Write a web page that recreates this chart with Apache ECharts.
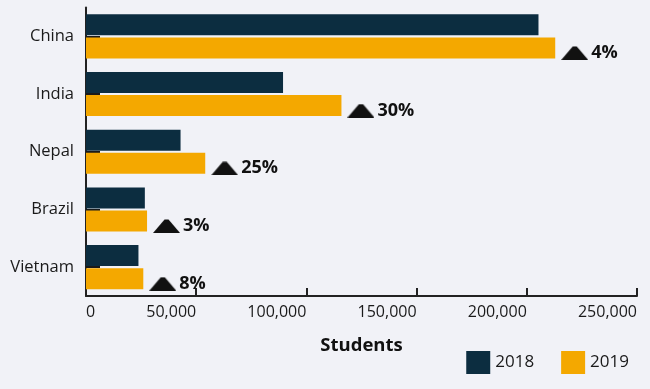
<!DOCTYPE html>
<html>
<head>
<meta charset="utf-8">
<script src="https://cdn.jsdelivr.net/npm/echarts@6/dist/echarts.min.js"></script>
<style>
html,body{margin:0;padding:0;background:#f1f2f7;}
#c{width:650px;height:389px;}
</style>
</head>
<body>
<div id="c"></div>
<script>
const categories = ['China', 'India', 'Nepal', 'Brazil', 'Vietnam'];
const values2018 = [205300, 89400, 42900, 26700, 23800];
const values2019 = [212900, 115900, 54100, 27700, 26000];
const changeLabels = ['4%', '30%', '25%', '3%', '8%'];
const seriesNames = ['2018', '2019'];

const tri = document.createElement('canvas');
tri.width = 27; tri.height = 14;
const g = tri.getContext('2d');
g.fillStyle = '#111';
g.beginPath();
g.moveTo(0, 14); g.lineTo(27, 14); g.lineTo(15.5, 0.5); g.lineTo(11.5, 0.5); g.closePath();
g.fill();

const FONT = '"Open Sans", sans-serif';
const chart = echarts.init(document.getElementById('c'));
chart.setOption({
  backgroundColor: '#f1f2f7',
  animation: false,
  textStyle: { fontFamily: FONT },
  grid: { left: 86, right: 13, top: 7.5, bottom: 93, containLabel: false },
  legend: {
    data: seriesNames,
    right: 16, top: 346,
    icon: 'rect',
    itemWidth: 24, itemHeight: 23, itemGap: 27,
    textStyle: { fontFamily: FONT, fontSize: 17, color: '#1a1a1a', padding: [6, 0, 0, 0] }
  },
  xAxis: {
    type: 'value', min: 0, max: 250000, interval: 50000,
    name: 'Students', nameLocation: 'middle', nameGap: 40,
    nameTextStyle: { fontFamily: FONT, fontSize: 18.5, fontWeight: 'bold', color: '#111' },
    axisLine: { show: true, lineStyle: { color: '#222', width: 2 } },
    axisTick: { show: true, inside: true, length: 8, lineStyle: { color: '#222', width: 2 } },
    axisLabel: {
      fontFamily: FONT, fontSize: 16, color: '#1a1a1a', margin: 8,
      align: 'right', alignMinLabel: 'left',
      formatter: v => v.toLocaleString('en-US')
    },
    splitLine: { show: false }
  },
  yAxis: {
    type: 'category', data: categories, inverse: true,
    axisLine: { show: true, lineStyle: { color: '#222', width: 2 } },
    axisTick: { show: true, inside: true, length: 14, alignWithLabel: true, lineStyle: { color: '#1a1a1a', width: 2 } },
    axisLabel: { fontFamily: FONT, fontSize: 16.5, color: '#1a1a1a', margin: 12 }
  },
  series: [
    {
      name: seriesNames[0], type: 'bar', data: values2018,
      barWidth: 21, barGap: '10%',
      itemStyle: { color: '#0c2d40' }
    },
    {
      name: seriesNames[1], type: 'bar', data: values2019,
      barWidth: 21, barGap: '10%',
      itemStyle: { color: '#f4a800' },
      label: {
        show: true, position: 'right', distance: 6, offset: [0, 5],
        formatter: p => '{tri|}{pct|' + changeLabels[p.dataIndex] + '}',
        rich: {
          tri: { width: 27, height: 14, backgroundColor: { image: tri } },
          pct: { fontFamily: FONT, fontSize: 18, fontWeight: 'bold', color: '#111', padding: [0, 0, 0, 3] }
        }
      }
    }
  ]
});
</script>
</body>
</html>
